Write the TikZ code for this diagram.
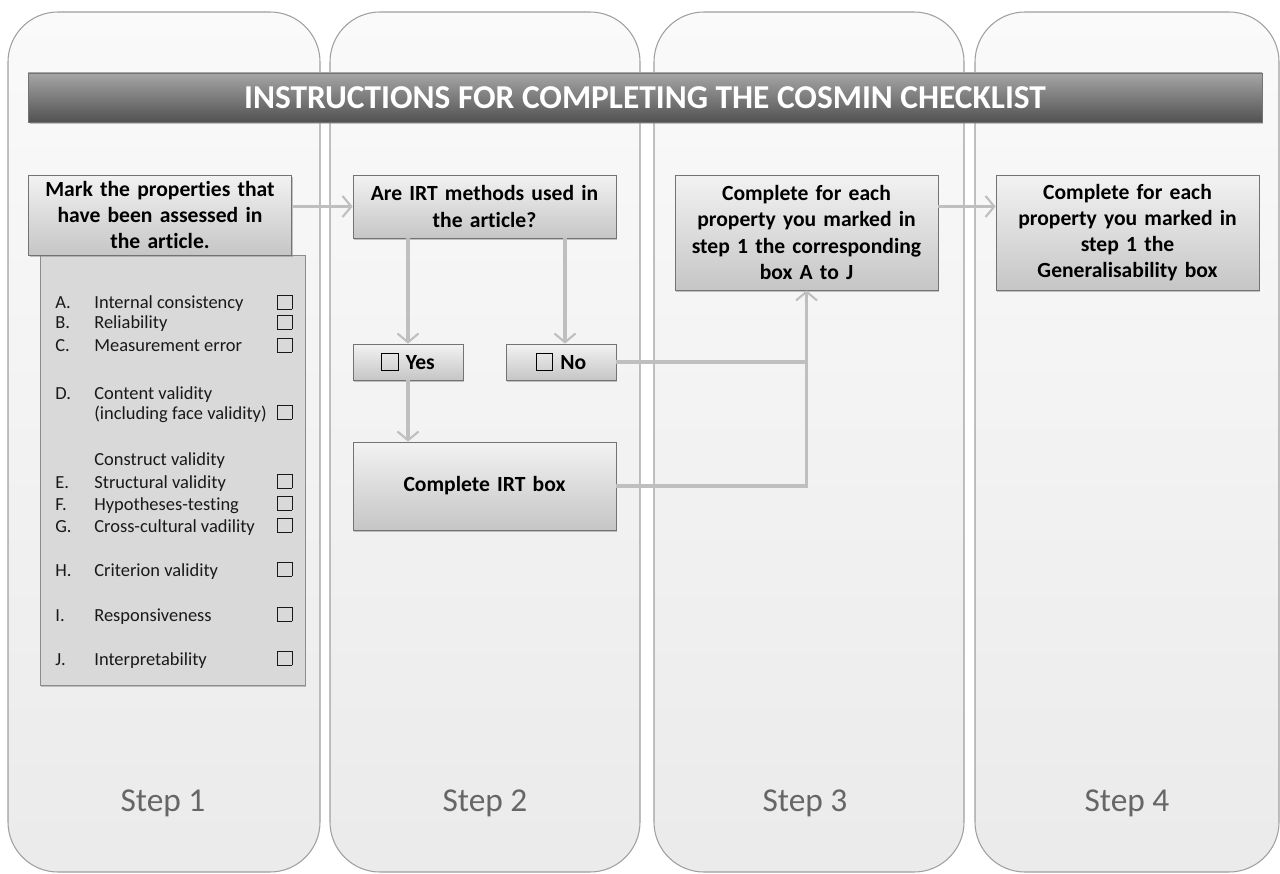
\documentclass[tikz,border=0pt]{standalone}
\usepackage{fontspec}
\setmainfont{Carlito}[Ligatures=NoCommon]
\usetikzlibrary{arrows.meta,shadows}
\newcommand{\chk}{{\fboxsep=0pt\fboxrule=0.5pt\fbox{\rule{0pt}{0.72em}\hspace{0.72em}}}}
\begin{document}
\begin{tikzpicture}[x=0.02cm,y=-0.02cm,
    lane/.style={draw=gray!75,line width=0.6pt,rounded corners=1cm,top color=gray!4,bottom color=gray!16},
    banner/.style={draw=black!55,top color=black!35,bottom color=black!68,text=white,
      font=\bfseries\fontsize{19}{22}\selectfont,minimum width=24.68cm,minimum height=0.98cm,
      drop shadow={shadow xshift=0.8pt,shadow yshift=-1.2pt,opacity=0.45}},
    stepbox/.style={draw=black!55,top color=gray!10,bottom color=gray!45,align=center,
      font=\bfseries\fontsize{12.3}{14.8}\selectfont,text width=5.2cm,minimum width=5.26cm,inner sep=0pt,
      drop shadow={shadow xshift=0.8pt,shadow yshift=-1.2pt,opacity=0.45}},
    listbox/.style={draw=black!45,fill=gray!30,minimum width=5.3cm,minimum height=8.6cm,
      drop shadow={shadow xshift=0.8pt,shadow yshift=-1.2pt,opacity=0.45}},
    item/.style={anchor=base west,inner sep=0pt,font=\fontsize{10.5}{12}\selectfont,text=black!90},
    steplbl/.style={font=\fontsize{19}{22}\selectfont,text=black!60},
    conn/.style={draw=gray!50,line width=2pt,-{Straight Barb[length=5pt,width=12pt,line width=1.2pt]}},
    link/.style={draw=gray!50,line width=2pt}]
  \useasboundingbox (0,0) rectangle (1280,874);
  % lanes
  \foreach \a/\b in {8/320,330/640,654/964,975/1279}
    \draw[lane] (\a,12) rectangle (\b,872);
  \node[banner] (title) at (645,97.5) {INSTRUCTIONS FOR COMPLETING THE COSMIN CHECKLIST};
  % step 1
  \node[listbox] (list) at (172.5,470) {};
  \node[stepbox,minimum height=1.6cm] (mark) at (160,215) {Mark the properties that\\have been assessed in\\the article.};
  \foreach \y/\l/\t in {309/A./Internal consistency,329/B./Reliability,352/C./Measurement error,
      488/E./Structural validity,510/F./Hypotheses-testing,532/G./Cross-cultural vadility,
      576/H./Criterion validity,621/I./Responsiveness,665/J./Interpretability}{
    \node[item] (l\y) at (55,\y) {\l};
    \node[item] (t\y) at (94,\y) {\t};
    \node[item] (c\y) at (277,\y) {\chk};
  }
  \node[item] (lD) at (55,399) {D.};
  \node[item] (tD) at (94,399) {Content validity};
  \node[item] (tD2) at (94,419) {(including face validity)};
  \node[item] (cD) at (277,419) {\chk};
  \node[item] (tCV) at (94,465) {Construct validity};
  % step 2
  \node[stepbox,minimum height=1.26cm] (irtq) at (484.5,206.5) {Are IRT methods used in\\the article?};
  \node[stepbox,text width=2cm,minimum width=2.2cm,minimum height=0.72cm] (yes) at (408,362) {\chk\ Yes};
  \node[stepbox,text width=2cm,minimum width=2.2cm,minimum height=0.72cm] (no) at (561,362) {\chk\ No};
  \node[stepbox,minimum height=1.76cm] (irt) at (484.5,486) {Complete IRT box};
  % steps 3 and 4
  \node[stepbox,minimum height=2.3cm] (boxes) at (806.5,232.5) {Complete for each\\property you marked in\\step 1 the corresponding\\box A to J};
  \node[stepbox,minimum height=2.3cm] (gen) at (1127.5,232.5) {Complete for each\\property you marked in\\step 1 the\\Generalisability box};
  % connectors
  \draw[conn] (mark.east |- irtq) -- (irtq.west);
  \draw[conn] (irtq.south -| yes) -- (yes.north);
  \draw[conn] (irtq.south -| 565,0) -- (565,0 |- no.north);
  \draw[conn] (yes.south) -- (irt.north -| yes);
  \draw[link] (no.east) -- (no.east -| boxes.south);
  \draw[conn] (irt.east) -| (boxes.south);
  \draw[conn] (boxes.east |- irtq) -- (gen.west |- irtq);
  % step labels
  \foreach \x/\n in {163/1,485/2,805/3,1127/4}
    \node[steplbl] (s\n) at (\x,803) {Step \n};
\end{tikzpicture}
\end{document}
